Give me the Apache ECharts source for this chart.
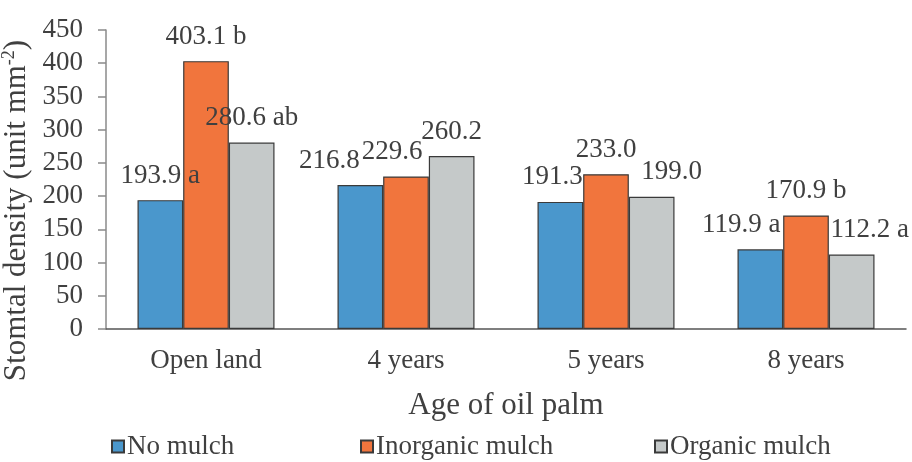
<!DOCTYPE html>
<html>
<head>
<meta charset="utf-8">
<script src="https://cdn.jsdelivr.net/npm/echarts@6/dist/echarts.min.js"></script>
<style>
  html, body { margin: 0; padding: 0; background: #fff; }
  #main { width: 912px; height: 462px; }
</style>
</head>
<body>
<div id="main"></div>
<script>
// 數據
const categories = ['Open land', '4 years', '5 years', '8 years'];
const noMulch = [193.9, 216.8, 191.3, 119.9];
const inorganicMulch = [403.1, 229.6, 233.0, 170.9];
const organicMulch = [280.6, 260.2, 199.0, 112.2];
// significance letters shown after the values
const noMulchLetters = ['a', '', '', 'a'];
const inorganicLetters = ['b', '', '', 'b'];
const organicLetters = ['ab', '', '', 'a'];
const yTicks = [0, 50, 100, 150, 200, 250, 300, 350, 400, 450];

// label nudges (x px) to mimic the original label placement
const nudgeNo = [0, -31, -8, -19];
const nudgeInorg = [0, -14, 0, 0];
const nudgeOrg = [0, 0, 20, 18];

const font = '"Liberation Serif", "Times New Roman", serif';
const textColor = '#404040';

const makeData = (values, letters, nudges) =>
  values.map((v, i) => ({
    value: v,
    label: {
      offset: [nudges[i], 0],
      formatter: v.toFixed(1) + (letters[i] ? ' ' + letters[i] : '')
    }
  }));

const makeSeries = (name, color, values, letters, nudges) => ({
  name: name,
  type: 'bar',
  barGap: '0%',
  barCategoryGap: '31.5%',
  itemStyle: { color: color, borderColor: '#3a3a3a', borderWidth: 1.2 },
  label: {
    show: true,
    position: 'top',
    distance: 11,
    color: textColor,
    fontFamily: font,
    fontSize: 27
  },
  data: makeData(values, letters, nudges)
});

const legendBase = {
  top: 428,
  itemWidth: 12,
  itemHeight: 12,
  itemGap: 4,
  icon: 'rect',
  textStyle: { fontFamily: font, fontSize: 27, color: textColor, padding: [0, 0, 0, -2] }
};

const chart = echarts.init(document.getElementById('main'));
chart.setOption({
  animation: false,
  grid: { left: 106, right: 6, top: 30, bottom: 133, outerBoundsMode: 'none' },
  legend: [
    Object.assign({ left: 106, data: ['No mulch'] }, legendBase),
    Object.assign({ left: 355, data: ['Inorganic mulch'] }, legendBase),
    Object.assign({ left: 649, data: ['Organic mulch'] }, legendBase)
  ],
  xAxis: {
    type: 'category',
    data: categories,
    name: 'Age of oil palm',
    nameLocation: 'middle',
    nameGap: 61,
    nameTextStyle: { fontFamily: font, fontSize: 31, color: textColor },
    axisLine: { lineStyle: { color: '#555', width: 1.5 } },
    axisTick: { show: false },
    axisLabel: { margin: 18, fontFamily: font, fontSize: 27, color: textColor }
  },
  yAxis: {
    type: 'value',
    min: yTicks[0],
    max: yTicks[yTicks.length - 1],
    interval: yTicks[1] - yTicks[0],
    name: '{n|Stomtal density (unit mm}{s|-2}{n|)}',
    nameLocation: 'middle',
    nameGap: 73,
    nameMoveOverlap: false,
    nameTextStyle: {
      padding: [0, 62, 0, 0],
      rich: {
        n: { fontFamily: font, fontSize: 31, color: textColor },
        s: { fontFamily: font, fontSize: 18, color: textColor, padding: [0, 0, 15, 0] }
      }
    },
    axisLine: { show: true, lineStyle: { color: '#8a8a8a', width: 1.5 } },
    axisTick: { show: true, length: 8, lineStyle: { color: '#8a8a8a', width: 1.5 } },
    splitLine: { show: false },
    axisLabel: { margin: 23, fontFamily: font, fontSize: 27, color: textColor }
  },
  series: [
    makeSeries('No mulch', '#4a97cc', noMulch, noMulchLetters, nudgeNo),
    makeSeries('Inorganic mulch', '#f1753d', inorganicMulch, inorganicLetters, nudgeInorg),
    makeSeries('Organic mulch', '#c5c9c9', organicMulch, organicLetters, nudgeOrg)
  ]
});
</script>
</body>
</html>
